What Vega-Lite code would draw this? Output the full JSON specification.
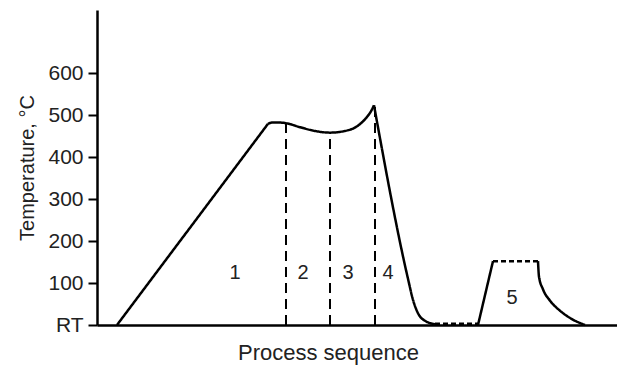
{
  "$schema": "https://vega.github.io/schema/vega-lite/v6.json",
  "width": 520,
  "height": 315,
  "autosize": "none",
  "padding": {"left": 97, "top": 10, "right": 0, "bottom": 43},
  "background": "white",
  "config": {
    "view": {"stroke": null},
    "font": "Liberation Sans",
    "axis": {"labelFont": "Liberation Sans", "titleFont": "Liberation Sans", "labelColor": "#222", "titleColor": "#222"}
  },
  "datasets": {
    "curve": [
      {"x": 20, "t": 0, "seg": "r", "style": "solid"},
      {"x": 171, "t": 479, "seg": "r", "style": "solid"},
      {"x": 171, "t": 479, "seg": "a1", "style": "solid"},
      {"x": 175, "t": 482, "seg": "a1", "style": "solid"},
      {"x": 183, "t": 482, "seg": "a1", "style": "solid"},
      {"x": 190, "t": 480, "seg": "a1", "style": "solid"},
      {"x": 203, "t": 471, "seg": "a1", "style": "solid"},
      {"x": 218, "t": 462, "seg": "a1", "style": "solid"},
      {"x": 233, "t": 458, "seg": "a1", "style": "solid"},
      {"x": 248, "t": 462, "seg": "a1", "style": "solid"},
      {"x": 260, "t": 473, "seg": "a1", "style": "solid"},
      {"x": 268, "t": 490, "seg": "a1", "style": "solid"},
      {"x": 274, "t": 509, "seg": "a1", "style": "solid"},
      {"x": 277, "t": 523, "seg": "a1", "style": "solid"},
      {"x": 277, "t": 523, "seg": "a2", "style": "solid"},
      {"x": 311, "t": 110, "seg": "a2", "style": "solid"},
      {"x": 316, "t": 60, "seg": "a2", "style": "solid"},
      {"x": 321, "t": 28, "seg": "a2", "style": "solid"},
      {"x": 328, "t": 10, "seg": "a2", "style": "solid"},
      {"x": 338, "t": 2, "seg": "a2", "style": "solid"},
      {"x": 338, "t": 3, "seg": "b", "style": "dotted"},
      {"x": 381, "t": 3, "seg": "b", "style": "dotted"},
      {"x": 381, "t": 0, "seg": "c", "style": "solid"},
      {"x": 396, "t": 152, "seg": "c", "style": "solid"},
      {"x": 396, "t": 152, "seg": "d", "style": "dotted"},
      {"x": 441, "t": 152, "seg": "d", "style": "dotted"},
      {"x": 441, "t": 152, "seg": "e", "style": "solid"},
      {"x": 442, "t": 115, "seg": "e", "style": "solid"},
      {"x": 446, "t": 85, "seg": "e", "style": "solid"},
      {"x": 453, "t": 58, "seg": "e", "style": "solid"},
      {"x": 463, "t": 34, "seg": "e", "style": "solid"},
      {"x": 475, "t": 14, "seg": "e", "style": "solid"},
      {"x": 488, "t": 0, "seg": "e", "style": "solid"}
    ],
    "dividers": [
      {"x": 189, "t0": 0, "t1": 480},
      {"x": 233, "t0": 0, "t1": 458},
      {"x": 278, "t0": 0, "t1": 520}
    ],
    "labels": [
      {"x": 138, "t": 125, "label": "1"},
      {"x": 206, "t": 125, "label": "2"},
      {"x": 251, "t": 125, "label": "3"},
      {"x": 291, "t": 125, "label": "4"},
      {"x": 415, "t": 64, "label": "5"}
    ]
  },
  "encoding": {
    "x": {
      "field": "x", "type": "quantitative",
      "scale": {"domain": [0, 520], "nice": false, "zero": false},
      "axis": {
        "title": "Process sequence", "titleFontSize": 22, "titleFontWeight": "normal",
        "titleX": 231, "titleAlign": "center", "titlePadding": 17,
        "ticks": false, "labels": false, "grid": false,
        "domainColor": "black", "domainWidth": 2.5
      }
    }
  },
  "layer": [
    {
      "data": {"name": "curve"},
      "mark": {"type": "line", "color": "black", "strokeWidth": 2.5, "strokeJoin": "round", "interpolate": "monotone"},
      "encoding": {
        "y": {
          "field": "t", "type": "quantitative",
          "scale": {"domain": [0, 750], "nice": false},
          "axis": {
            "title": "Temperature, °C", "titleFontSize": 20, "titleFontWeight": "normal",
            "values": [0, 100, 200, 300, 400, 500, 600],
            "labelExpr": "datum.value == 0 ? 'RT' : datum.label",
            "labelFontSize": 21, "labelPadding": 5,
            "tickSize": 9, "tickWidth": 2, "tickColor": "black",
            "domainColor": "black", "domainWidth": 2.5, "grid": false,
            "titlePadding": 10
          }
        },
        "detail": {"field": "seg"},
        "strokeDash": {
          "field": "style", "type": "nominal",
          "scale": {"domain": ["solid", "dotted"], "range": [[1, 0], [5, 3]]},
          "legend": null
        }
      }
    },
    {
      "data": {"name": "dividers"},
      "mark": {"type": "rule", "color": "black", "strokeWidth": 2, "strokeDash": [10, 6]},
      "encoding": {
        "y": {"field": "t0", "type": "quantitative"},
        "y2": {"field": "t1"}
      }
    },
    {
      "data": {"name": "labels"},
      "mark": {"type": "text", "fontSize": 20, "color": "#222"},
      "encoding": {
        "y": {"field": "t", "type": "quantitative"},
        "text": {"field": "label"}
      }
    }
  ]
}
